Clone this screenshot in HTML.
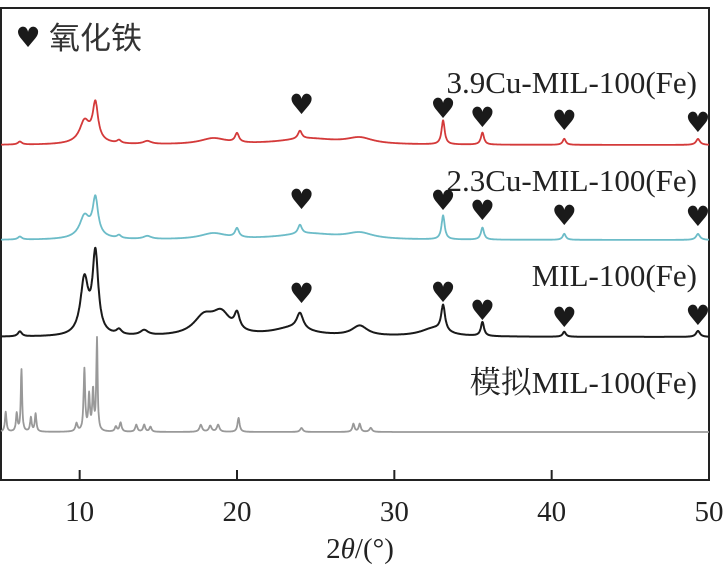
<!DOCTYPE html>
<html><head><meta charset="utf-8"><style>
html,body{margin:0;padding:0;background:#fff;}
svg{display:block;}
</style></head><body>
<svg id="chart" width="725" height="578" xmlns="http://www.w3.org/2000/svg"></svg>
<script>
// ---- data ----
const xTicks = [10, 20, 30, 40, 50];
const seriesNames = ["3.9Cu-MIL-100(Fe)", "2.3Cu-MIL-100(Fe)", "MIL-100(Fe)", "模拟MIL-100(Fe)"];
const seriesColors = ["#d43a3a", "#6cbcc8", "#1a1a1a", "#999999"];
const seriesBaselines = [145, 240, 337, 432];
// peaks: [2theta, height(px), halfwidth]
const peaksRed = [[6.2,3,0.15],[10.3,18,0.35],[11.0,36,0.2],[10.6,6,0.8],[12.5,3,0.15],[14.3,3,0.3],[18.5,6,1.0],[20.0,9,0.15],[24.0,8,0.15],[24.5,6,2.2],[27.8,6,1.0],[33.1,24,0.12],[35.6,12,0.12],[40.8,6,0.12],[49.3,6,0.15]];
const peaksCyan = [[6.2,3,0.15],[10.3,18,0.35],[11.0,36,0.2],[10.6,6,0.8],[12.5,3,0.15],[14.3,3,0.3],[18.5,6,1.0],[20.0,9,0.15],[24.0,9,0.15],[24.5,6,2.2],[27.8,6,1.0],[33.1,24,0.12],[35.6,12,0.12],[40.8,6,0.12],[49.3,6,0.15]];
const peaksBlack = [[6.2,5,0.15],[10.3,55,0.3],[11.0,80,0.22],[12.5,5,0.2],[14.1,5,0.3],[17.9,18,0.8],[19.0,20,0.7],[20.0,16,0.2],[24.0,16,0.25],[23.5,8,1.5],[27.8,10,0.6],[33.1,26,0.15],[32.5,8,1.0],[35.6,14,0.12],[40.8,5,0.12],[49.3,6,0.15]];
const peaksGray = [[5.3,20,0.06],[6.0,18,0.06],[6.3,62,0.05],[6.9,14,0.06],[7.2,18,0.06],[9.8,8,0.08],[10.3,62,0.06],[10.6,35,0.06],[10.85,40,0.06],[11.1,92,0.05],[12.3,5,0.08],[12.6,9,0.08],[13.6,7,0.08],[14.1,7,0.08],[14.5,5,0.08],[17.7,7,0.1],[18.3,6,0.1],[18.8,7,0.1],[20.1,14,0.08],[24.1,4,0.1],[27.4,8,0.08],[27.8,8,0.08],[28.5,4,0.1]];
const allPeaks = [peaksRed, peaksCyan, peaksBlack, peaksGray];
const markerX = [24.1, 33.1, 35.6, 40.8, 49.3];
const markerYRed = [104, 108, 117, 120, 122];
const markerYCyan = [199, 200, 210, 215, 216];
const markerYBlack = [293, 292, 310, 317, 315];
const allMarkers = [markerYRed, markerYCyan, markerYBlack];
const labelY = [93, 191, 286, 393];

// ---- axes ----
const L=1, R=709, T=8, B=480, X0=5, X1=50;
const sx = v => L + (v - X0) / (X1 - X0) * (R - L);
const NS="http://www.w3.org/2000/svg";
const svg=document.getElementById('chart');
function mk(tag, attrs, parent){const e=document.createElementNS(NS,tag);for(const k in attrs)e.setAttribute(k,attrs[k]);(parent||svg).appendChild(e);return e;}

const frame=mk('rect',{x:L,y:T,width:R-L,height:B-T,fill:'none',stroke:'#222','stroke-width':2});



xTicks.forEach(t=>{
  const ln=mk('line',{x1:sx(t),x2:sx(t),y1:B,y2:B-10,stroke:'#222','stroke-width':2});
  
  
  const tx=mk('text',{x:sx(t),y:521,'text-anchor':'middle','font-family':'"Liberation Serif",serif','font-size':29,fill:'#222'});
  tx.textContent=t;
  
  
});

const title=mk('text',{x:360,y:558,'text-anchor':'middle','font-family':'"Liberation Serif",serif','font-size':29,fill:'#222'});
title.innerHTML='2<tspan font-style="italic">θ</tspan>/(°)';



// ---- series ----
allPeaks.forEach((pk,i)=>{
  let d='';
  for(let x=X0;x<=X1+1e-9;x+=0.02){
    let y=0;
    pk.forEach(p=>{const u=(x-p[0])/p[2];y+=p[1]/(1+u*u);});
    const px=sx(x), py=seriesBaselines[i]-y;
    d+=(d?'L':'M')+px.toFixed(1)+' '+py.toFixed(1);
  }
  const path=mk('path',{d:d,fill:'none',stroke:seriesColors[i],'stroke-width':i==2?2:1.8,'stroke-linejoin':'round'});
  
  
  const lb=mk('text',{x:697,y:labelY[i],'text-anchor':'end','font-family':'"Liberation Serif","Noto Serif CJK SC",serif','font-size':31,fill:'#222'});
  lb.textContent=seriesNames[i];
  
  
});

allMarkers.forEach((ys,i)=>{
  markerX.forEach((x,j)=>{
    const h=mk('text',{x:sx(x),y:ys[j]+10,'text-anchor':'middle','font-family':'"DejaVu Sans",sans-serif','font-size':28,fill:'#1a1a1a'});
    h.textContent='♥';
    
    
  });
});

const lh=mk('text',{x:28,y:47,'text-anchor':'middle','font-family':'"DejaVu Sans",sans-serif','font-size':28,fill:'#1a1a1a'});
lh.textContent='♥';


const lt=mk('text',{x:49,y:49,'font-family':'"Liberation Sans","Noto Sans CJK SC",sans-serif','font-size':31,fill:'#333'});
lt.textContent='氧化铁';


</script>
</body></html>
